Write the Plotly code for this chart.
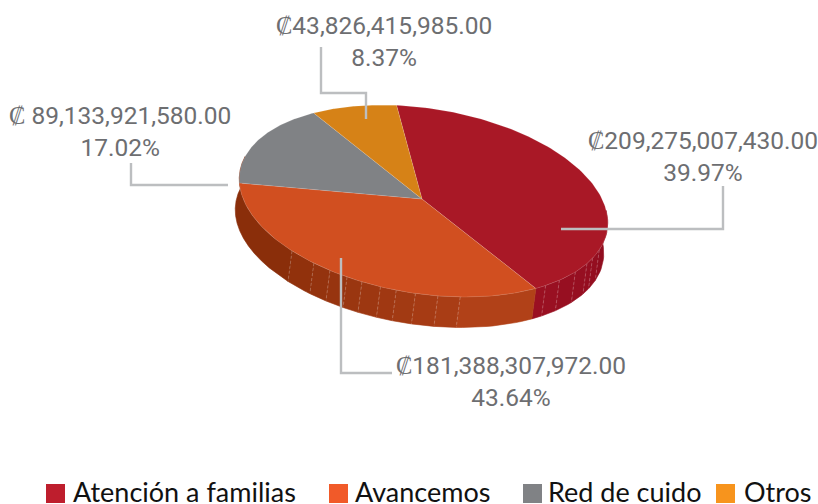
import numpy as np
import plotly.graph_objects as go

categories = ["Atención a familias", "Avancemos", "Red de cuido", "Otros beneficios"]
amounts = [209275007430.00, 181388307972.00, 89133921580.00, 43826415985.00]
amount_labels = ["₡209,275,007,430.00", "₡181,388,307,972.00", "₡ 89,133,921,580.00", "₡43,826,415,985.00"]
percent_labels = ["39.97%", "43.64%", "17.02%", "8.37%"]
top_colors = ["#a91826", "#d14f20", "#808285", "#d68217"]
legend_colors = ["#be1e2d", "#f15a29", "#808285", "#f7941d"]
wall_colors = [("#8e0c1e", "#9a1022"), ("#b8441a", "#8a2e0a")]
wall_seams = [13, 19, 23, 30, 38, 44, 74, 81, 88, 94, 99, 105, 110, 116, 122, 131]

CX, CY, A, B, TILT = 423.5, 201.0, 186.0, 92.6, np.radians(9)
DX, DY = -4.0, 30.5
START = -98.2
GRAY = "#6d6e71"
LEAD = "#bcbec0"


def warp(s):
    r = np.radians(s)
    return START + s - 2.64 * np.sin(r) - 4.72 * np.cos(r)


def ellipse(t, dx=0.0, dy=0.0):
    r = np.radians(t)
    u, v = A * np.cos(r), B * np.sin(r)
    return (CX + u * np.cos(TILT) - v * np.sin(TILT) + dx,
            CY + u * np.sin(TILT) + v * np.cos(TILT) + dy)


def mix(c1, c2, f):
    a = [int(c1[i:i + 2], 16) for i in (1, 3, 5)]
    b = [int(c2[i:i + 2], 16) for i in (1, 3, 5)]
    return "rgb(%d,%d,%d)" % tuple(round(p + (q - p) * f) for p, q in zip(a, b))


share = np.array(amounts) / sum(amounts)
edges = np.concatenate([[0], np.cumsum(share) * 360])
t_edges = [float(warp(e)) for e in edges]
fig = go.Figure()


def poly(x, y, color, line_color=None, width=0.6):
    fig.add_trace(go.Scatter(x=x, y=y, mode="lines", fill="toself", fillcolor=color,
                             line=dict(color=line_color or color, width=width),
                             hoverinfo="skip", showlegend=False))


# side wall: facets between the seams, front part only
wall_end = 190.0
break_points = sorted(set([-12.0] + [t_edges[1]] + wall_seams + [wall_end]))
for t0, t1 in zip(break_points[:-1], break_points[1:]):
    mid = (t0 + t1) / 2
    if mid < t_edges[1]:
        c = mix(*wall_colors[0], (mid + 12) / (t_edges[1] + 12))
    else:
        c = mix(*wall_colors[1], min(1, (mid - t_edges[1]) / (140 - t_edges[1])))
    t = np.linspace(t0, t1, 14)
    xa, ya = ellipse(t)
    xb, yb = ellipse(t, DX, DY)
    poly(np.r_[xa, xb[::-1], xa[0]], np.r_[ya, yb[::-1], ya[0]], c)
for s in wall_seams:
    xa, ya = ellipse(np.array([float(s)]))
    xb, yb = ellipse(np.array([float(s)]), DX, DY)
    fig.add_trace(go.Scatter(x=[xa[0], xb[0]], y=[ya[0], yb[0]], mode="lines",
                             line=dict(color="rgba(255,255,255,0.3)", width=0.8, dash="3px,2px"),
                             hoverinfo="skip", showlegend=False))

# top face
apex_x, apex_y = 422.0, 199.0
for i, c in enumerate(top_colors):
    t = np.linspace(t_edges[i], t_edges[i + 1], 120)
    x, y = ellipse(t)
    poly(np.r_[apex_x, x, apex_x], np.r_[apex_y, y, apex_y], c, "rgba(255,255,255,0.25)", 0.5)

# leader lines
leaders = [([561, 723, 723], [229, 229, 186]),
           ([341, 341, 392], [258, 373, 373]),
           ([228, 131, 131], [185, 185, 163]),
           ([366, 366, 321, 321], [119, 93, 93, 47])]
for lx, ly in leaders:
    fig.add_trace(go.Scatter(x=lx, y=ly, mode="lines", line=dict(color=LEAD, width=2.4),
                             hoverinfo="skip", showlegend=False))

label_pos = [(703, 156), (511, 381), (120, 131), (384, 41)]
annotations = []
for (px, py), a, p in zip(label_pos, amount_labels, percent_labels):
    annotations.append(dict(x=px, y=py, text=a + "<br>" + p, showarrow=False, xanchor="center",
                            yanchor="middle", align="center",
                            font=dict(family="Roboto", size=24.5, color=GRAY)))

# legend row
legend_box = [46, 329, 523, 716]
legend_text = [71, 353, 546, 742]
shapes = []
for bx, tx, name, c in zip(legend_box, legend_text, categories, legend_colors):
    shapes.append(dict(type="rect", xref="x", yref="y", x0=bx, x1=bx + 19, y0=484, y1=503,
                       fillcolor=c, line_width=0, layer="above"))
    annotations.append(dict(x=tx, y=491, text=name, showarrow=False, xanchor="left", yanchor="middle",
                            font=dict(family="Lato", size=27, color="#111111")))

fig.update_layout(
    width=818, height=504, margin=dict(l=0, r=0, t=0, b=0),
    paper_bgcolor="white", plot_bgcolor="white", showlegend=False,
    xaxis=dict(range=[0, 818], visible=False, fixedrange=True),
    yaxis=dict(range=[504, 0], visible=False, fixedrange=True),
    annotations=annotations, shapes=shapes,
)
fig.write_html("out.html", config=dict(displayModeBar=False),
               post_script="document.documentElement.style.margin='0';document.body.style.margin='0';document.body.style.overflow='hidden';")
